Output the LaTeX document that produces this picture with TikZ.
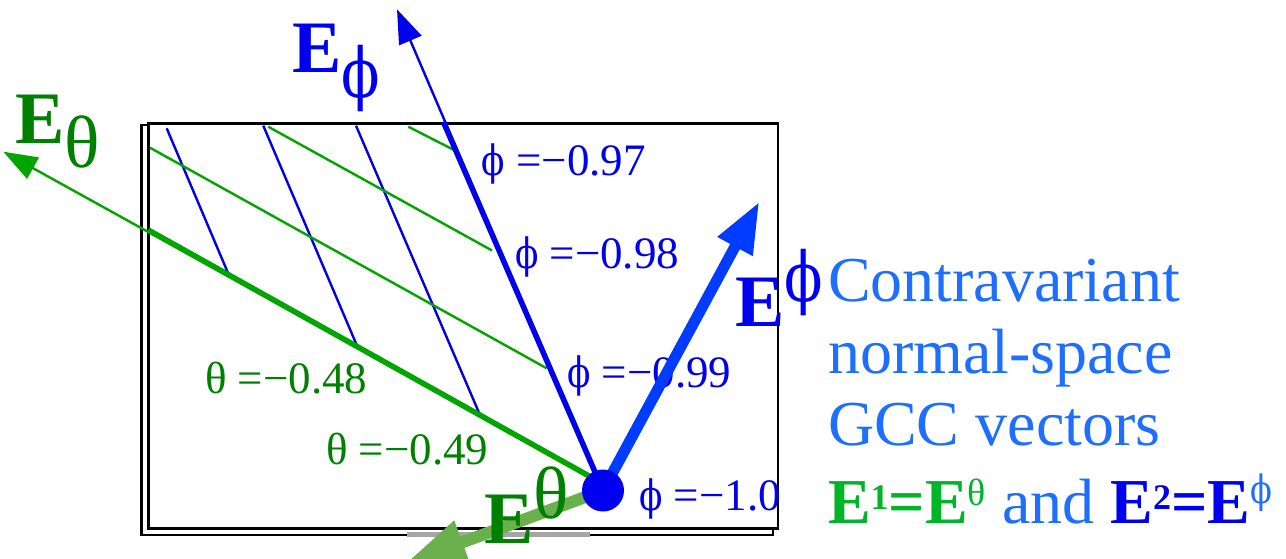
\documentclass[tikz,border=0pt]{standalone}
\usepackage{fontspec}
\usepackage{graphicx}
\setmainfont{Liberation Serif}
\newfontfamily\dvs[Scale=0.93]{DejaVu Serif}
\usetikzlibrary{arrows.meta}
\definecolor{lblue}{RGB}{0,0,235}
\definecolor{lgreen}{RGB}{0,165,0}
\definecolor{tgreen}{RGB}{0,128,0}
\definecolor{ablue}{RGB}{0,60,255}
\definecolor{agreen}{RGB}{106,176,76}
\definecolor{pblue}{RGB}{30,110,255}
\definecolor{bgreen}{RGB}{0,180,40}
\definecolor{eblue}{RGB}{0,0,240}
\newcommand{\ph}{{\dvs\mdseries\scalebox{0.82}[1]{ϕ}}}
\newcommand{\thf}{θ}
\begin{document}
\begin{tikzpicture}[x=1pt,y=-1pt,
  gridb/.style={draw=lblue,line width=2.4pt},
  gridg/.style={draw=lgreen,line width=2.4pt},
  thickb/.style={draw=lblue,line width=5.5pt},
  thickg/.style={draw=lgreen,line width=5.5pt},
  thintip/.style={-{Triangle[length=34pt,width=24pt]}},
  bigtip/.style={-{Triangle[length=51pt,width=37pt]}},
  hugetip/.style={-{Triangle[length=60pt,width=43pt]}},
  lbl/.style={anchor=base west,inner sep=0pt,outer sep=0pt,font=\fontsize{45}{45}\selectfont},
  big/.style={anchor=base west,inner sep=0pt,outer sep=0pt,font=\fontsize{74}{74}\selectfont},
  para/.style={anchor=base west,inner sep=0pt,outer sep=0pt,text=pblue,font=\fontsize{64}{64}\selectfont}]
\useasboundingbox (0,0) rectangle (1286,558);
\clip (0,0) rectangle (1286,558);
% frame with shadow
\draw[line width=2.8pt] (141.7,125) rectangle (773,535);
\fill[white] (407,531) rectangle (590,538);
\fill[black!35] (407,532) rectangle (590,537);
\draw[line width=2.8pt,fill=white] (148.3,123.3) rectangle (778,528.3);
% coordinates
\coordinate (O) at (603,490.5);
\coordinate (b1s) at (166.7,128.3); \coordinate (b1e) at (229.3,276);
\coordinate (b2s) at (263.3,125.7); \coordinate (b2e) at (356.7,345);
\coordinate (b3s) at (356,125.7);   \coordinate (b3e) at (480,415);
\coordinate (g1s) at (150,147.7);   \coordinate (g1e) at (546.7,368.3);
\coordinate (g2s) at (268.3,126.7); \coordinate (g2e) at (492,250.5);
\coordinate (g3s) at (408.3,126.7); \coordinate (g3e) at (456,151);
\coordinate (tgs) at (148.3,230);   \coordinate (tge) at (598,481);
\coordinate (tbs) at (443.3,121.7);
\coordinate (thtip) at (3.3,151.7);
\coordinate (phtip) at (397,9.3);
\coordinate (uphtip) at (759.3,201.7);
\coordinate (uthtip) at (406,563);
% grid lines
\draw[gridb] (b1s) -- (b1e);
\draw[gridb] (b2s) -- (b2e);
\draw[gridb] (b3s) -- (b3e);
\draw[gridg] (g1s) -- (g1e);
\draw[gridg] (g2s) -- (g2e);
\draw[gridg] (g3s) -- (g3e);
% covariant vectors
\draw[gridg,thintip] (tge) -- (thtip);
\draw[gridb,thintip] (O) -- (phtip);
\draw[thickg] (tgs) -- (tge);
\draw[thickb] (tbs) -- (O);
% labels
\node[lbl,text=lblue] (p97) at (481.7,175) {\ph\ =−0.97};
\node[lbl,text=lblue] (p98) at (515,268.3) {\ph\ =−0.98};
\node[lbl,text=lblue] (p99) at (567.3,387.3) {\ph\ =−0.99};
\node[lbl,text=lblue] (p10) at (639.3,510) {\ph\ =−1.0};
\node[lbl,text=tgreen] (t48) at (205,393.3) {\thf\ =−0.48};
\node[lbl,text=tgreen] (t49) at (326,464.3) {\thf\ =−0.49};
\node[big,text=tgreen] (Eth) at (15.5,143) {\textbf{E}\raisebox{-24pt}{\thf}};
\node[big,text=eblue] (Eph) at (292,72) {\textbf{E}\raisebox{-25pt}{\ph}};
% contravariant vectors
\draw[draw=ablue,line width=11pt,bigtip] (O) -- (uphtip);
\draw[draw=agreen,line width=12pt,hugetip] (O) -- (uthtip);
\fill[eblue] (O) circle (21);
\node[big,text=eblue] (Euph) at (735.5,326.7) {\textbf{E}\raisebox{25pt}{\ph}};
\node[big,text=tgreen] (Euth) at (484,543) {\textbf{E}\raisebox{25pt}{\thf}};
% text
\node[para] (l1) at (828,301.7) {Contravariant};
\node[para] (l2) at (828,373.3) {normal-space};
\node[para] (l3) at (828,445) {GCC vectors};
\node[para] (l4) at (828,523.3) {\textcolor{bgreen}{\textbf{E\raisebox{14pt}{\fontsize{36}{36}\selectfont 1}=E}\raisebox{18pt}{\fontsize{38}{38}\selectfont\thf}} and \textcolor{eblue}{\textbf{E\raisebox{14pt}{\fontsize{36}{36}\selectfont 2}=E}}\raisebox{20pt}{\fontsize{42}{42}\selectfont\ph}};
\end{tikzpicture}
\end{document}
